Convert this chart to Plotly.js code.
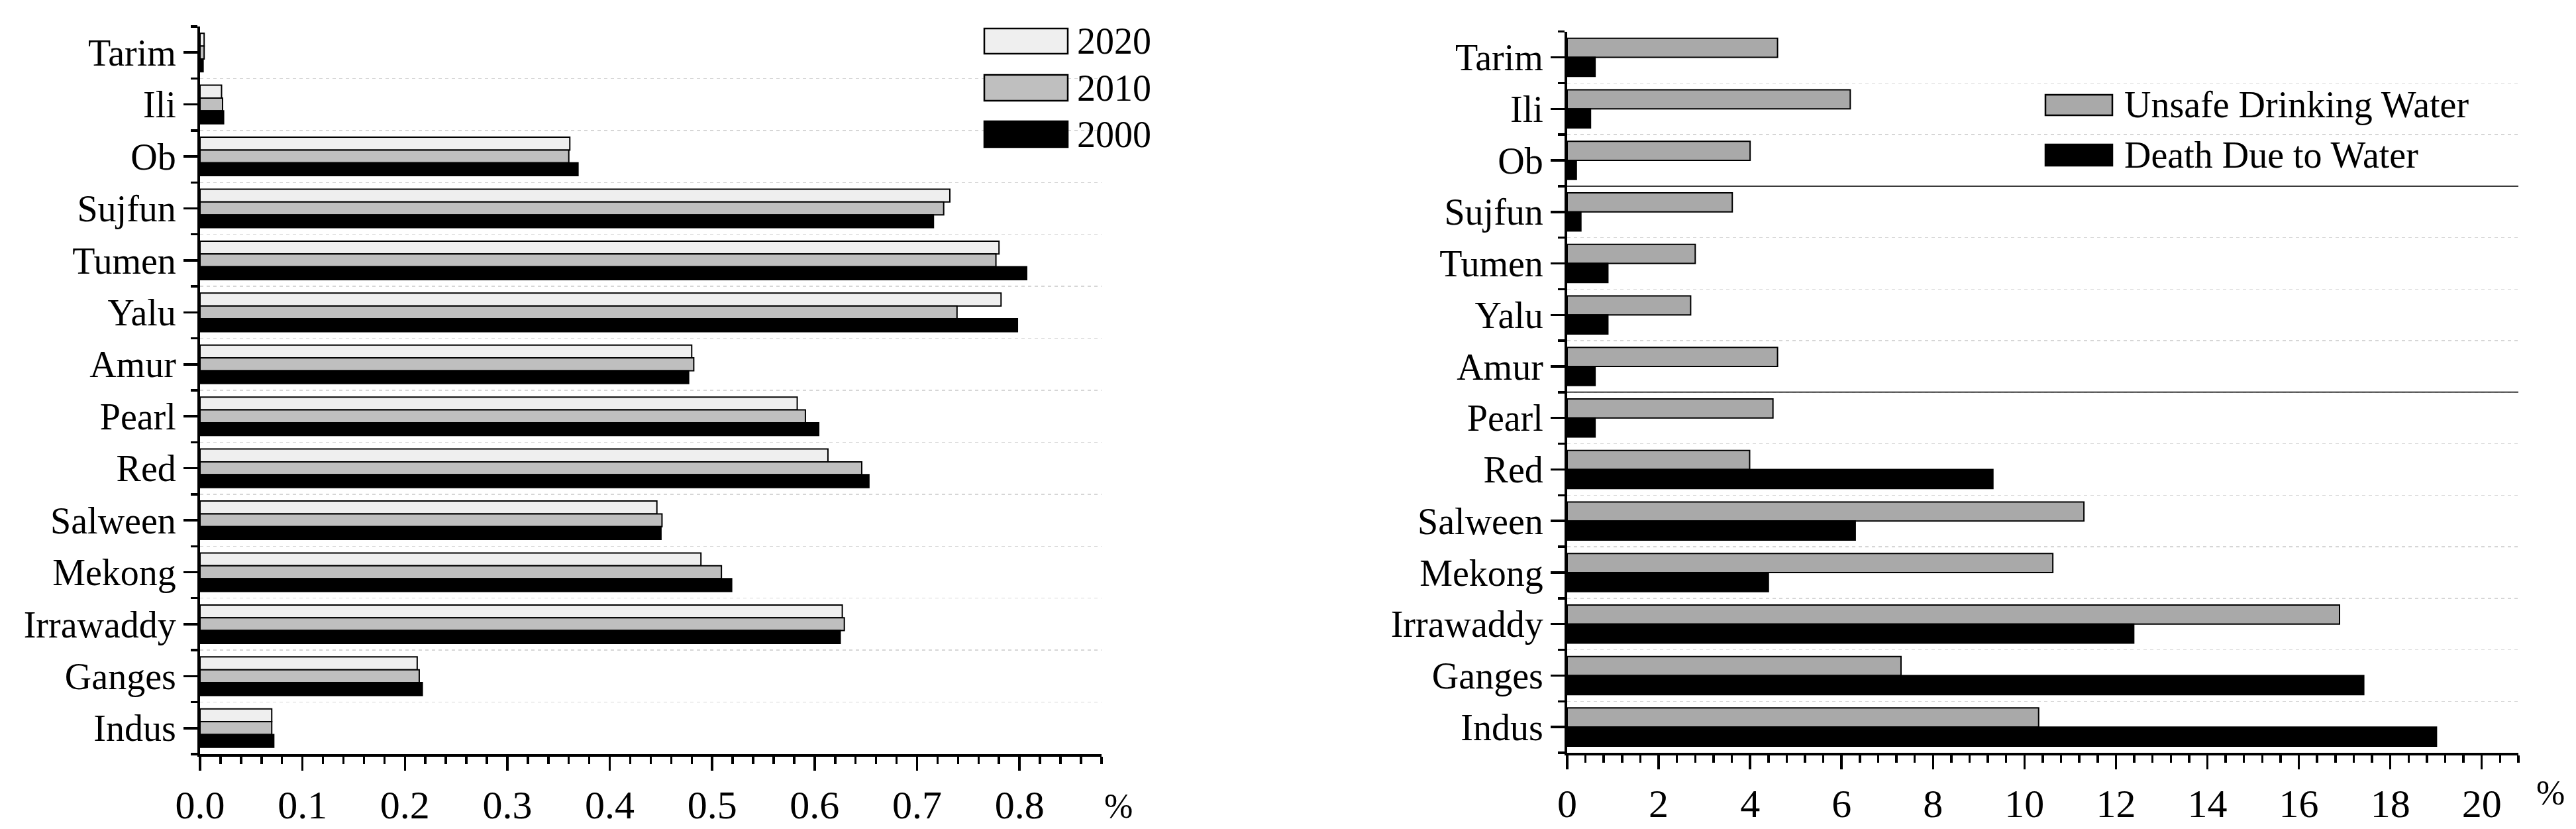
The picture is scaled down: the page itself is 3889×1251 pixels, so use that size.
<!DOCTYPE html>
<html>
<head>
<meta charset="utf-8">
<script src="https://cdn.plot.ly/plotly-3.0.1.min.js"></script>
<style>html,body{margin:0;padding:0;background:#fff;}#chart{width:3889px;height:1251px;}</style>
</head>
<body>
<div id="chart"></div>
<script>
// ---- data ----
const categories = ['Tarim','Ili','Ob','Sujfun','Tumen','Yalu','Amur','Pearl','Red','Salween','Mekong','Irrawaddy','Ganges','Indus'];
const yearNames = ['2020','2010','2000'];
const share2020 = [0.004,0.021,0.361,0.732,0.780,0.782,0.480,0.583,0.613,0.446,0.489,0.627,0.212,0.070];
const share2010 = [0.004,0.022,0.360,0.726,0.777,0.739,0.482,0.591,0.646,0.451,0.509,0.629,0.214,0.070];
const share2000 = [0.003,0.023,0.369,0.716,0.807,0.798,0.477,0.604,0.653,0.450,0.519,0.625,0.217,0.072];
const healthNames = ['Unsafe Drinking Water','Death Due to Water'];
const unsafeWater = [4.60,6.19,4.00,3.61,2.80,2.70,4.60,4.50,3.99,11.30,10.62,16.89,7.30,10.31];
const deathWater  = [0.61,0.51,0.20,0.30,0.89,0.89,0.61,0.61,9.31,6.30,4.40,12.39,17.42,19.01];
const separatorsAfter = ['Ob','Amur'];
const unitLabel = '%';

// ---- styling ----
const W = 3889, H = 1251;
const FONT = 'Liberation Serif, Times New Roman, serif';
const px = v => v / W;
const py = v => 1 - v / H;
const pos = categories.map((c, i) => i);

const leftColors = ['#efefef', '#bfbfbf', '#000000'];
const rightColors = ['#a9a9a9', '#000000'];
const leftSeries = [share2020, share2010, share2000];
const rightSeries = [unsafeWater, deathWater];

const traces = [];
leftSeries.forEach((vals, k) => {
  traces.push({type:'bar', orientation:'h', x: vals, y: pos, name: yearNames[k],
    xaxis:'x', yaxis:'y', showlegend:false,
    marker:{color: leftColors[k], line:{color:'#000', width:2}}});
});
rightSeries.forEach((vals, k) => {
  traces.push({type:'bar', orientation:'h', x: vals, y: pos, name: healthNames[k],
    xaxis:'x2', yaxis:'y2', showlegend:false,
    marker:{color: rightColors[k], line:{color:'#000', width:2}}});
});

function yAxis(domain, anchor) {
  return {
    domain: domain, anchor: anchor, type:'linear',
    range:[categories.length - 0.5, -0.5],
    tickmode:'array', tickvals: pos, ticktext: categories,
    ticks:'outside', ticklen:21, tickwidth:3.5, tickcolor:'#000',
    showline:true, linewidth:4, linecolor:'#000',
    showgrid:false, zeroline:false,
    tickfont:{family:FONT, size:56, color:'#000'},
    minor:{tickmode:'linear', tick0:0.5, dtick:1, ticks:'outside', ticklen:10,
      tickwidth:3.5, tickcolor:'#000', showgrid:true, gridcolor:'#d6d6d6',
      gridwidth:1.5, griddash:'5px,5px'},
    fixedrange:true
  };
}
function xAxis(domain, anchor, rng, dtick, minorDtick, fmt) {
  return {
    domain: domain, anchor: anchor, range: rng,
    tickmode:'linear', tick0:0, dtick: dtick, tickformat: fmt,
    ticks:'outside', ticklen:21, tickwidth:3.5, tickcolor:'#000',
    showline:true, linewidth:4, linecolor:'#000',
    showgrid:false, zeroline:false,
    tickfont:{family:FONT, size:60, color:'#000'},
    minor:{tickmode:'linear', tick0:0, dtick: minorDtick, ticks:'outside', ticklen:11,
      tickwidth:3.5, tickcolor:'#000', showgrid:false},
    fixedrange:true
  };
}

const shapes = [];
const annotations = [];

// separators in right panel
separatorsAfter.forEach(name => {
  const b = categories.indexOf(name) + 0.5;
  shapes.push({type:'line', xref:'x2 domain', yref:'y2', x0:0, x1:1, y0:b, y1:b,
    line:{color:'#3c3c3c', width:2}});
});

// custom legends
function legendItem(x0, x1, yTop, yBot, fill, label, textX) {
  shapes.push({type:'rect', xref:'paper', yref:'paper', x0:px(x0), x1:px(x1), y0:py(yBot), y1:py(yTop),
    fillcolor: fill, line:{color:'#000', width:2.5}});
  annotations.push({xref:'paper', yref:'paper', x:px(textX), y:py((yTop + yBot) / 2),
    xanchor:'left', yanchor:'middle', text: label, showarrow:false,
    font:{family:FONT, size:56, color:'#000'}});
}
const leftRows = [[43,81],[113,152],[183,222]];
yearNames.forEach((n, k) => legendItem(1486, 1612, leftRows[k][0], leftRows[k][1], leftColors[k], n, 1624));
const rightRows = [[143,174],[218,250]];
healthNames.forEach((n, k) => legendItem(3088, 3189, rightRows[k][0], rightRows[k][1], rightColors[k], n, 3205));

// unit labels
annotations.push({xref:'paper', yref:'paper', x:px(1688), y:py(1216), xanchor:'center', yanchor:'middle',
  text: unitLabel, showarrow:false, font:{family:FONT, size:52, color:'#000'}});
annotations.push({xref:'paper', yref:'paper', x:px(3850), y:py(1196), xanchor:'center', yanchor:'middle',
  text: unitLabel, showarrow:false, font:{family:FONT, size:52, color:'#000'}});

const layout = {
  width: W, height: H,
  margin:{l:0, r:0, t:0, b:0, pad:0},
  paper_bgcolor:'#fff', plot_bgcolor:'#fff',
  barmode:'group', bargap:0.26, bargroupgap:0,
  showlegend:false,
  font:{family:FONT, color:'#000'},
  xaxis: xAxis([px(302), px(1663)], 'y', [0, 0.8801], 0.1, 0.02, '.1f'),
  yaxis: yAxis([py(1138), py(40)], 'x'),
  xaxis2: xAxis([px(2366), px(3802)], 'y2', [0, 20.801], 2, 0.4, 'd'),
  yaxis2: yAxis([py(1136), py(47.7)], 'x2'),
  shapes: shapes,
  annotations: annotations
};

Plotly.newPlot('chart', traces, layout, {displayModeBar:false, staticPlot:true});
</script>
</body>
</html>
